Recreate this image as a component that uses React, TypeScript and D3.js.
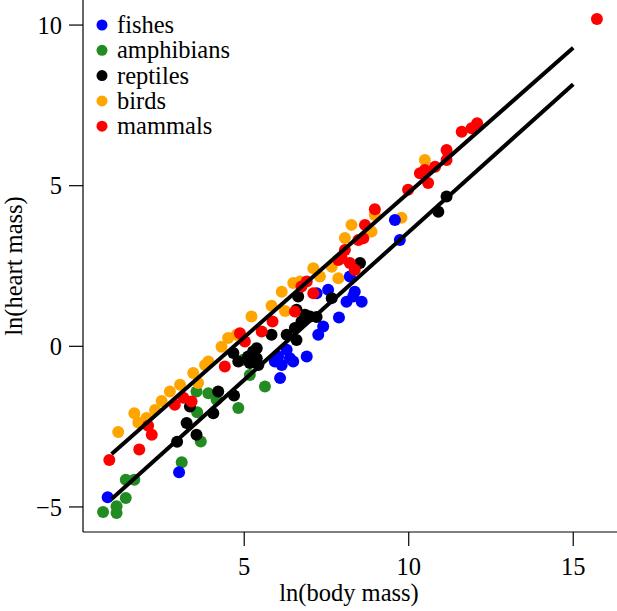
import React from "react";
import * as d3 from "d3";

const W = 617;
const H = 611;

const categories = ["fishes", "amphibians", "reptiles", "birds", "mammals"];
const colors = ["#0000FF", "#228B22", "#000000", "#FFA500", "#FF0000"];

const fishes: [number, number][] = [
  [0.85, -4.7], [3.02, -3.92], [5.93, -0.47], [6.03, -0.32], [6.09, -0.99], [6.14, -0.58],
  [6.29, -0.11], [6.39, -0.37], [6.49, -0.47], [6.9, -0.32], [7.25, 0.36], [7.4, 0.62],
  [7.88, 0.9], [7.2, 1.65], [7.55, 1.76], [8.11, 1.39], [8.21, 2.17], [8.31, 1.55],
  [8.36, 1.7], [8.57, 1.39], [9.58, 3.93], [9.73, 3.31],
];
const amphibians: [number, number][] = [
  [0.71, -5.16], [1.12, -4.98], [1.12, -5.19], [1.4, -4.72], [1.4, -4.15], [1.66, -4.15],
  [3.1, -3.61], [3.55, -1.41], [3.57, -2.05], [3.68, -2.96], [3.91, -1.46], [4.16, -1.66],
  [4.82, -1.92], [5.17, -0.89], [5.63, -1.25], [4.97, -0.42],
];
const birds: [number, number][] = [
  [1.17, -2.67], [1.66, -2.08], [1.78, -2.37], [2.03, -2.23], [2.29, -1.98], [2.49, -1.7],
  [2.74, -1.41], [3.05, -1.2], [3.45, -0.83], [3.6, -1.14], [3.81, -0.58], [3.91, -0.47],
  [4.31, -0.01], [4.51, 0.26], [4.77, 0.36], [5.22, 0.93], [5.83, 1.26], [6.14, 1.7],
  [6.24, 1.1], [6.49, 1.97], [6.7, 2.02], [7.1, 2.43], [7.3, 2.17], [7.66, 2.48],
  [7.86, 2.12], [8.06, 3.37], [8.26, 3.78], [8.87, 3.57], [8.97, 4.09], [9.78, 4.0],
  [10.49, 5.8],
];
const reptiles: [number, number][] = [
  [2.96, -2.97], [3.25, -2.39], [3.55, -2.75], [3.35, -1.87], [4.06, -2.08], [4.21, -1.41],
  [4.69, -1.53], [4.67, -0.21], [4.82, -0.47], [5.12, -0.32], [5.27, -0.16], [5.38, -0.37],
  [5.43, -0.58], [5.17, -0.52], [5.38, -0.06], [5.83, 0.36], [6.29, 0.36], [6.54, 0.57],
  [6.59, 0.2], [6.59, 1.14], [6.64, 1.55], [6.74, 0.77], [6.85, 0.98], [7.0, 0.93],
  [7.2, 0.91], [7.66, 1.5], [8.52, 2.59], [10.9, 4.19], [11.15, 4.66],
];
const mammals: [number, number][] = [
  [0.9, -3.54], [1.81, -3.21], [2.19, -2.75], [2.08, -2.47], [2.89, -1.82], [3.15, -1.6],
  [3.4, -1.72], [4.41, -0.63], [4.87, 0.41], [5.02, 0.15], [5.53, 0.46], [5.86, 0.77],
  [6.54, 1.08], [6.74, 1.86], [6.9, 2.02], [7.1, 1.65], [7.86, 2.69], [7.96, 2.74],
  [8.06, 3.0], [8.21, 2.59], [8.36, 2.38], [8.47, 3.31], [8.62, 3.36], [8.67, 3.78],
  [8.97, 4.27], [9.98, 4.87], [10.34, 5.39], [10.49, 5.49], [10.59, 5.08], [10.8, 5.59],
  [11.15, 6.11], [11.15, 5.8], [11.61, 6.68], [11.91, 6.79], [12.08, 6.94], [15.72, 10.19],
];

const seriesData = [fishes, amphibians, reptiles, birds, mammals];
const drawOrder = [1, 3, 0, 2, 4];

const upperLineX = [0.97, 15.0];
const upperLineY = [-3.35, 9.29];
const lowerLineX = [0.97, 15.0];
const lowerLineY = [-4.75, 8.16];

const xTicks = [5, 10, 15];
const yTicks = [-5, 0, 5, 10];

const xDomain = [0.1, 16.3];
const yDomain = [-5.78, 10.78];

const FONT = "'Liberation Serif', 'Times New Roman', serif";
const FS = 24.5;

export default function App() {
  const left = 83;
  const right = 616;
  const top = 0;
  const bottom = 532;
  const x = d3.scaleLinear().domain(xDomain).range([left, right]);
  const y = d3.scaleLinear().domain(yDomain).range([bottom, top]);
  const line = d3
    .line<[number, number]>()
    .x((d) => x(d[0]))
    .y((d) => y(d[1]));
  const upper: [number, number][] = upperLineX.map((v, i) => [v, upperLineY[i]]);
  const lower: [number, number][] = lowerLineX.map((v, i) => [v, lowerLineY[i]]);
  const fmt = (v: number) => (v < 0 ? "\u2212" + Math.abs(v) : String(v));

  return (
    <svg
      width={W}
      height={H}
      style={{ position: "absolute", left: 0, top: 0, background: "#fff" }}
      fontFamily={FONT}
    >
      <rect x={0} y={0} width={W} height={H} fill="#fff" />
      <line x1={left} x2={left} y1={top} y2={bottom} stroke="#000" strokeWidth={1.2} />
      <line x1={left} x2={W} y1={bottom} y2={bottom} stroke="#000" strokeWidth={1.2} />
      {xTicks.map((t) => (
        <g key={"xt" + t}>
          <line x1={x(t)} x2={x(t)} y1={bottom} y2={bottom + 14} stroke="#000" strokeWidth={1.2} />
          <text x={x(t)} y={575} textAnchor="middle" fontSize={FS}>
            {fmt(t)}
          </text>
        </g>
      ))}
      {yTicks.map((t) => (
        <g key={"yt" + t}>
          <line x1={left - 14} x2={left} y1={y(t)} y2={y(t)} stroke="#000" strokeWidth={1.2} />
          <text x={62} y={y(t)} dy="0.35em" textAnchor="end" fontSize={FS}>
            {fmt(t)}
          </text>
        </g>
      ))}
      <text x={349} y={601} textAnchor="middle" fontSize={FS}>
        ln(body mass)
      </text>
      <text transform={`translate(22,266) rotate(-90)`} textAnchor="middle" fontSize={FS}>
        ln(heart mass)
      </text>
      {drawOrder.map((si) => (
        <g key={"s" + si} fill={colors[si]}>
          {seriesData[si].map((d, i) => (
            <circle key={i} cx={x(d[0])} cy={y(d[1])} r={6} />
          ))}
        </g>
      ))}
      <path d={line(upper) || ""} stroke="#000" strokeWidth={4} fill="none" />
      <path d={line(lower) || ""} stroke="#000" strokeWidth={4} fill="none" />
      {categories.map((c, i) => (
        <g key={c}>
          <circle cx={102} cy={25 + i * 25.3} r={5.5} fill={colors[i]} />
          <text x={117} y={25 + i * 25.3} dy="0.33em" fontSize={FS}>
            {c}
          </text>
        </g>
      ))}
    </svg>
  );
}
